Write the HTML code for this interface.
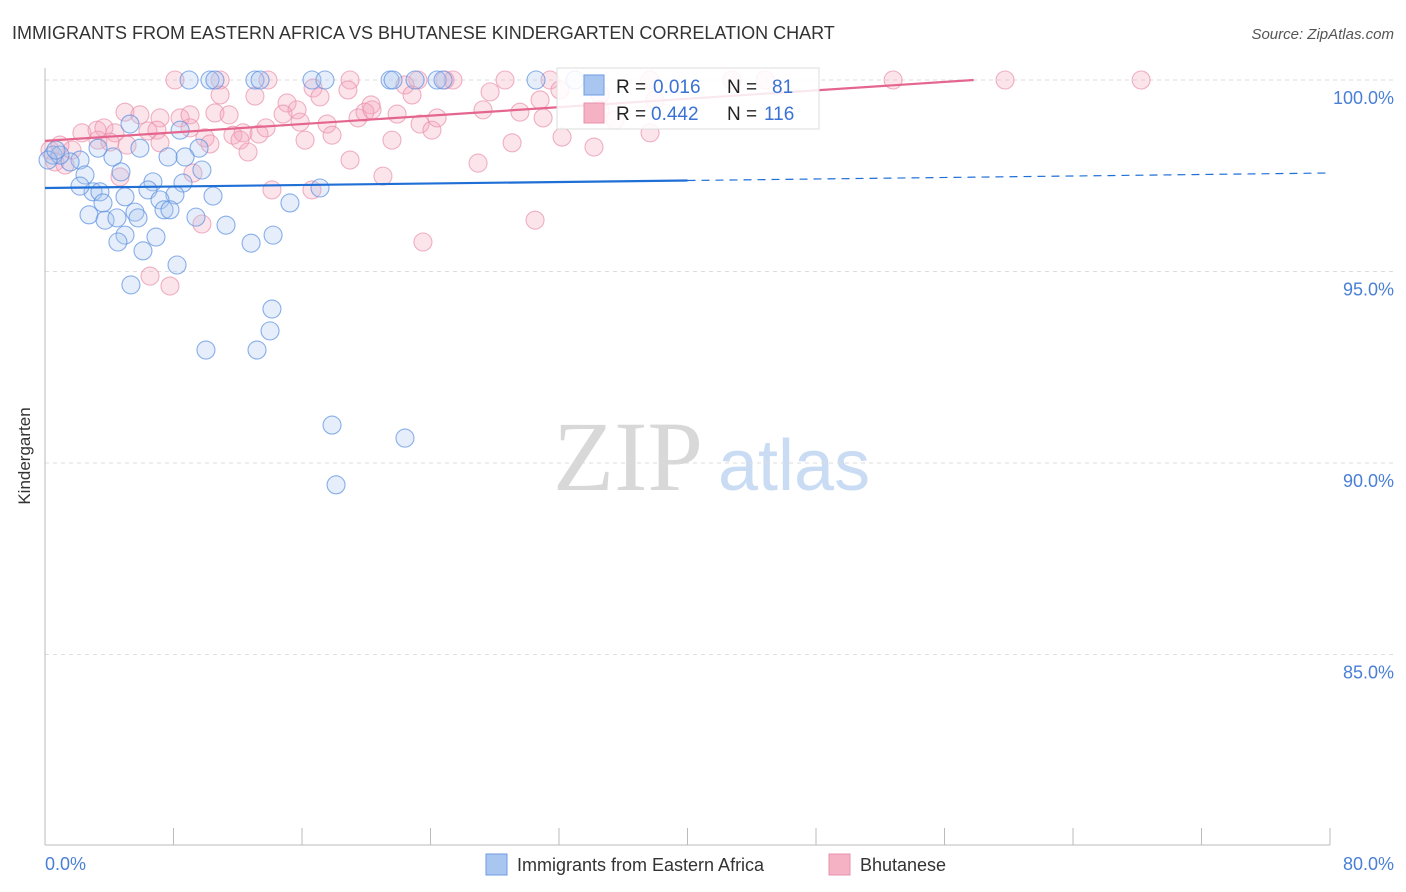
<!DOCTYPE html>
<html><head><meta charset="utf-8"><style>
body{margin:0;background:#fff;font-family:"Liberation Sans",sans-serif}
svg{display:block}
</style></head><body>
<svg id="chart" width="1406" height="892" viewBox="0 0 1406 892">
<text x="12" y="39" font-size="18" fill="#333">IMMIGRANTS FROM EASTERN AFRICA VS BHUTANESE KINDERGARTEN CORRELATION CHART</text>
<text x="1394" y="39" font-size="15" fill="#555" font-style="italic" text-anchor="end">Source: ZipAtlas.com</text>
<g>
<text x="553" y="490" font-family="Liberation Serif,serif" font-size="100" fill="#d8d8d8">ZIP</text>
<text x="718" y="490" font-size="72" fill="#c9dcf3">atlas</text>
</g>
<g id="grid"></g>
<line x1="45" y1="68" x2="45" y2="845" stroke="#bbb"/>
<line x1="45" y1="845" x2="1330" y2="845" stroke="#bbb"/>
<g id="xticks"></g>
<g id="pts"></g>
<g id="lines"></g>
<text x="30" y="456" font-size="17" fill="#333" text-anchor="middle" transform="rotate(-90 30 456)">Kindergarten</text>
<text x="45" y="870" font-size="18" fill="#4a7fd6">0.0%</text>
<text x="1394" y="870" font-size="18" fill="#4a7fd6" text-anchor="end">80.0%</text>
<g>
<rect x="557" y="68" width="262" height="61" fill="#fff" fill-opacity="0.85" stroke="#ddd"/>
<rect x="584" y="75" width="20" height="20" fill="#a9c6f0" stroke="#6d9be3"/>
<rect x="584" y="103" width="20" height="20" fill="#f5b2c5" stroke="#e891ab"/>
<text x="616" y="93" font-size="19" fill="#222">R = <tspan fill="#3a72d4" x="653">0.016</tspan><tspan x="727">N =</tspan><tspan fill="#3a72d4" x="772">81</tspan></text>
<text x="616" y="120" font-size="19" fill="#222">R = <tspan fill="#3a72d4" x="651">0.442</tspan><tspan x="727">N =</tspan><tspan fill="#3a72d4" x="764">116</tspan></text>
</g>
<g>
<rect x="486" y="854" width="21" height="21" fill="#a9c6f0" stroke="#6d9be3"/>
<text x="517" y="871" font-size="18" fill="#333">Immigrants from Eastern Africa</text>
<rect x="829" y="854" width="21" height="21" fill="#f5b2c5" stroke="#e891ab"/>
<text x="860" y="871" font-size="18" fill="#333">Bhutanese</text>
</g>
</svg>
<script>
const yTicks=[100,95,90,85];
const yTickLabels=["100.0%","95.0%","90.0%","85.0%"];
const xTicks=[0,8,16,24,32,40,48,56,64,72,80];
const blueX=[8.97,10.27,10.58,13.07,13.39,16.62,17.43,21.48,21.67,23.04,24.41,24.78,30.57,33.0,5.29,8.41,5.91,9.59,8.72,7.66,4.23,3.30,2.18,1.56,0.50,0.93,0.19,0.68,2.49,4.73,9.77,6.72,8.59,6.41,8.09,2.99,3.42,2.18,4.98,10.46,17.12,15.25,3.61,7.16,5.60,2.74,3.74,4.48,5.79,7.41,7.78,9.40,11.27,4.98,6.91,4.54,6.10,14.20,12.83,8.22,5.35,14.13,14.01,10.02,13.20,17.87,22.41,18.12];
const blueY=[100,100,100,100,100,100,100,100,100,100,100,100,100,100,98.85,98.69,98.22,98.22,97.99,97.99,97.99,98.22,97.91,97.86,98.04,98.04,97.91,98.17,97.52,97.60,97.65,97.34,97.31,97.13,97.00,97.08,97.08,97.23,96.95,96.97,97.18,96.79,96.79,96.87,96.55,96.48,96.34,96.40,96.40,96.61,96.61,96.42,96.21,95.95,95.90,95.77,95.54,95.95,95.74,95.17,94.65,94.02,93.45,92.95,92.95,90.99,90.65,89.43];
const pinkX=[8.09,10.90,13.88,23.22,25.40,28.64,31.44,42.77,44.83,52.80,59.77,68.24,24.9,18.99,10.90,13.07,16.69,17.12,18.86,20.30,22.41,22.85,27.71,30.82,32.06,34.55,37.67,37.98,4.98,5.91,7.16,8.41,9.03,10.58,11.46,11.70,12.33,13.32,13.76,15.07,15.69,14.82,15.88,17.56,19.49,19.92,20.36,21.92,23.35,24.09,24.41,27.27,29.57,31.01,34.55,35.49,2.30,3.24,3.67,4.36,3.30,4.05,5.11,6.41,6.97,7.16,9.03,9.96,10.27,12.14,12.64,16.19,17.87,21.60,18.99,21.04,26.96,29.08,32.19,34.18,37.67,0.31,0.62,1.25,1.68,0.93,4.67,9.21,9.77,14.13,16.62,23.53,30.51,6.54,7.78];
const pinkY=[100,100,100,100,100,100,100,100,100,100,100,100,100,100,99.61,99.58,99.79,99.56,99.74,99.35,99.87,99.61,99.69,99.48,99.74,99.61,100,99.48,99.16,99.09,99.01,99.01,99.09,99.14,99.09,98.56,98.62,98.59,98.75,99.40,99.22,99.11,98.90,98.85,99.01,99.16,99.22,99.11,98.85,98.69,99.01,99.22,99.16,99.01,99.22,98.96,98.62,98.69,98.75,98.62,98.43,98.38,98.30,98.67,98.69,98.36,98.75,98.49,98.33,98.43,98.12,98.43,98.56,98.43,97.91,97.49,97.83,98.36,98.51,98.25,98.62,98.17,97.86,97.78,98.17,98.30,97.47,97.57,96.24,97.13,97.13,95.77,96.34,94.88,94.62];
const blueTrend=[97.18,0.0049]; // intercept, slope
const pinkTrend=[98.41,0.0275];
const blueSolidEnd=40;

const NS="http://www.w3.org/2000/svg";
const sx=v=>45+v/80*1285;
const sy=v=>80+(100-v)/5*191.5;
function mk(tag,attrs,parent){const e=document.createElementNS(NS,tag);for(const k in attrs)e.setAttribute(k,attrs[k]);parent.appendChild(e);return e;}
const grid=document.getElementById('grid');
yTicks.forEach((t,i)=>{
  const l=mk('line',{x1:45,x2:1394,y1:sy(t),y2:sy(t),stroke:'#ddd','stroke-dasharray':'4,4'},grid);
  
  
  const tx=mk('text',{x:1394,y:sy(t)+24,'font-size':18,fill:'#4a7fd6','text-anchor':'end'},grid);
  tx.textContent=yTickLabels[i];
  
  
});
const xt=document.getElementById('xticks');
xTicks.forEach(t=>{
  const l=mk('line',{x1:sx(t),x2:sx(t),y1:828,y2:845,stroke:'#bbb'},xt);
  
  
});
const pts=document.getElementById('pts');
function drawSeries(X,Y,fill,stroke,name){
  X.forEach((x,i)=>{
    const c=mk('circle',{cx:sx(x),cy:sy(Math.min(Y[i],100)),r:9,fill:fill,'fill-opacity':0.3,stroke:stroke,'stroke-opacity':0.7,'stroke-width':1.1},pts);
    
    
  });
}
drawSeries(pinkX,pinkY,'#f4a5bd','#e891ab','bhutanese-point');
drawSeries(blueX,blueY,'#a9c6f0','#5a8ee0','eastern-africa-point');
const lg=document.getElementById('lines');
const by=x=>blueTrend[0]+blueTrend[1]*x;
let l1=mk('line',{x1:sx(0),y1:sy(by(0)),x2:sx(blueSolidEnd),y2:sy(by(blueSolidEnd)),stroke:'#1f6fd6','stroke-width':2.2},lg);


let l2=mk('line',{x1:sx(blueSolidEnd),y1:sy(by(blueSolidEnd)),x2:sx(80),y2:sy(by(80)),stroke:'#1f6fd6','stroke-width':1.2,'stroke-dasharray':'8,6'},lg);


const pEnd=(100-pinkTrend[0])/pinkTrend[1];
let l3=mk('line',{x1:sx(0),y1:sy(pinkTrend[0]),x2:sx(pEnd),y2:sy(100),stroke:'#e4668f','stroke-width':2.2},lg);


</script>
</body></html>
